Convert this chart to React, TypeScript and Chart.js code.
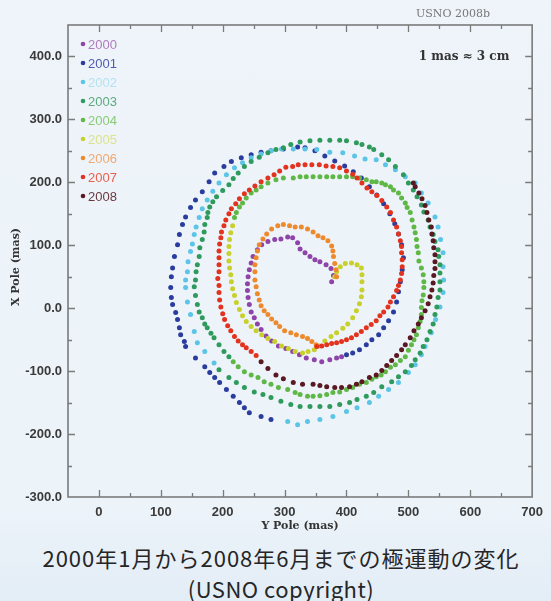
import { useEffect, useRef } from 'react';
import Chart from 'chart.js/auto';

// ---- Data: [Y pole (mas), X pole (mas)] ----
const YEARS = ['2000', '2001', '2002', '2003', '2004', '2005', '2006', '2007', '2008'];

const p2000: [number, number][] = [
  [376, 42], [379, 52], [375, 63], [367, 69], [357, 74], [349, 77], [341, 82], [333, 88], [325, 94], [321, 104],
  [313, 112], [305, 113], [294, 110], [284, 109], [273, 106], [263, 101], [256, 93], [249, 82], [246, 72], [243, 61],
  [241, 50], [240, 39], [240, 28], [241, 17], [243, 6], [246, -6], [251, -15], [256, -25], [262, -34], [270, -44],
  [279, -52], [290, -60], [302, -64], [313, -69], [324, -74], [335, -79], [348, -82], [360, -85], [373, -82], [384, -79],
  [392, -77],
];

const p2001: [number, number][] = [
  [400, -74], [410, -71], [421, -66], [432, -58], [441, -50], [452, -42], [460, -31], [468, -20], [476, -6], [481, 10],
  [484, 26], [487, 42], [490, 61], [492, 80], [489, 101], [484, 118], [478, 134], [470, 150], [460, 166], [449, 180],
  [437, 193], [424, 207], [411, 217], [397, 226], [381, 234], [365, 242], [349, 250], [333, 255], [321, 256], [298, 253],
  [278, 250], [262, 248], [246, 244], [230, 239], [214, 233], [202, 225], [187, 215], [178, 201], [167, 185], [156, 172],
  [148, 160], [140, 145], [135, 133], [130, 117], [127, 101], [122, 82], [119, 64], [117, 50], [116, 33], [117, 17],
  [119, 6], [124, -7], [127, -18], [130, -31], [132, -42], [138, -53], [140, -61], [156, -79], [171, -93], [179, -102],
  [187, -110], [195, -118], [206, -129], [217, -140], [227, -150], [235, -158], [243, -166], [262, -172], [278, -177],
];

const p2002: [number, number][] = [
  [305, -180], [321, -185], [337, -180], [357, -177], [378, -172], [400, -164], [417, -158], [437, -150], [452, -140], [468, -129],
  [484, -118], [500, -102], [511, -90], [521, -74], [527, -61], [537, -39], [544, -18], [551, 2], [556, 25], [557, 45],
  [556, 66], [556, 88], [552, 109], [548, 129], [543, 145], [532, 167], [521, 183], [511, 199], [495, 209], [479, 220],
  [463, 228], [448, 236], [430, 237], [413, 242], [394, 247], [373, 248], [352, 252], [333, 253], [314, 253], [295, 253],
  [278, 250], [262, 245], [246, 239], [232, 231], [219, 223], [206, 212], [194, 199], [184, 186], [175, 172], [167, 158],
  [162, 144], [157, 129], [154, 117], [151, 102], [148, 90], [144, 74], [143, 58], [140, 45], [140, 33], [143, 10],
  [148, -10], [154, -37], [159, -55], [171, -69], [186, -87],
];

const p2003: [number, number][] = [
  [194, -98], [210, -110], [222, -118], [235, -126], [251, -133], [265, -137], [278, -142], [294, -148], [310, -153], [325, -156],
  [341, -156], [357, -156], [373, -156], [389, -153], [405, -150], [417, -145], [432, -140], [444, -134], [457, -125], [473, -117],
  [484, -109], [495, -101], [505, -91], [511, -82], [519, -71], [524, -61], [530, -50], [535, -37], [540, -25], [543, -10],
  [546, 2], [548, 17], [551, 29], [551, 42], [551, 56], [551, 69], [549, 82], [548, 93], [543, 106], [540, 117],
  [535, 129], [532, 140], [525, 153], [521, 164], [514, 177], [508, 188], [500, 199], [492, 212], [479, 225], [468, 236],
  [457, 244], [444, 252], [437, 256], [425, 260], [416, 263], [400, 266], [389, 267], [373, 267], [357, 267], [341, 266],
  [325, 264], [310, 260], [298, 255], [286, 252], [273, 247], [259, 240], [246, 233], [235, 225], [225, 215], [217, 206],
  [210, 196], [200, 187], [190, 177], [184, 169], [179, 161], [176, 152], [175, 144], [171, 133], [170, 121], [167, 109],
  [163, 96], [162, 82], [159, 69], [157, 58], [156, 45], [154, 34], [156, 20], [159, 6], [162, -6], [167, -15],
  [171, -25], [175, -31], [181, -40], [186, -47], [194, -58], [202, -69], [210, -77],
];

const p2004: [number, number][] = [
  [217, -85], [225, -93], [235, -101], [246, -106], [257, -110], [267, -117], [278, -121], [290, -126], [305, -129], [317, -134],
  [325, -137], [337, -140], [346, -140], [357, -139], [368, -137], [378, -134], [389, -133], [400, -129], [410, -126], [421, -121],
  [432, -118], [441, -113], [448, -109], [456, -106], [463, -101], [471, -94], [479, -90], [487, -83], [495, -77], [500, -67],
  [505, -58], [509, -50], [513, -42], [516, -31], [519, -21], [521, -10], [521, 1], [522, 12], [524, 21], [525, 33],
  [525, 42], [524, 53], [521, 64], [517, 75], [516, 88], [514, 98], [513, 109], [511, 120], [509, 129], [506, 140],
  [503, 152], [498, 160], [495, 167], [489, 175], [484, 183], [476, 188], [471, 193], [463, 196], [457, 199], [448, 201],
  [441, 201], [432, 204], [421, 207], [410, 209], [400, 209], [389, 209], [378, 209], [368, 209], [357, 209], [346, 209],
  [335, 209], [325, 209], [314, 207], [298, 207], [286, 204], [273, 199], [262, 193], [254, 188], [246, 183], [238, 175],
  [232, 167], [227, 161], [222, 152], [219, 144],
];

const p2005: [number, number][] = [
  [216, 131], [213, 120], [211, 109], [210, 98], [210, 87], [210, 75], [211, 64], [213, 53], [214, 42], [216, 31],
  [219, 20], [222, 9], [227, -2], [232, -12], [238, -21], [246, -29], [254, -36], [263, -42], [273, -48], [284, -53],
  [295, -60], [306, -64], [317, -69], [329, -71], [338, -69], [348, -66], [356, -60], [365, -52], [375, -45], [384, -39],
  [394, -32], [402, -25], [410, -15], [416, -4], [421, 7], [424, 18], [425, 29], [425, 42], [425, 53], [424, 64],
  [417, 69], [408, 72], [398, 71], [390, 66], [384, 58], [381, 50],
];

const p2006: [number, number][] = [
  [384, 50], [383, 61], [381, 71], [379, 82], [378, 91], [376, 99], [370, 107], [362, 112], [354, 115], [346, 121],
  [337, 126], [327, 129], [317, 129], [308, 131], [298, 133], [289, 131], [279, 126], [271, 118], [265, 110], [259, 101],
  [256, 91], [254, 80], [252, 69], [252, 58], [252, 45], [254, 34], [256, 23], [259, 13], [262, 4], [267, -4],
  [273, -10], [279, -17], [286, -23], [292, -29], [300, -36], [310, -39], [319, -42], [329, -45], [337, -48], [344, -53],
  [351, -58],
];

const p2007: [number, number][] = [
  [352, -61], [360, -60], [368, -58], [376, -56], [384, -55], [392, -53], [400, -50], [408, -47], [416, -42], [424, -37],
  [432, -31], [440, -26], [448, -20], [454, -12], [460, -6], [467, 2], [471, 10], [476, 18], [481, 28], [484, 36],
  [487, 45], [489, 55], [490, 66], [490, 77], [489, 88], [489, 98], [487, 107], [484, 118], [481, 129], [476, 140],
  [471, 152], [465, 161], [457, 171], [449, 179], [441, 185], [433, 191], [425, 199], [417, 207], [410, 213], [400, 218],
  [389, 223], [378, 225], [367, 226], [356, 228], [344, 228], [333, 228], [322, 228], [313, 225], [302, 224], [292, 218],
  [283, 212], [273, 207], [262, 201], [252, 194], [243, 188], [235, 182], [227, 174], [221, 166], [214, 158], [210, 150],
  [205, 140], [202, 131], [198, 121], [197, 112], [195, 102], [194, 91], [194, 80], [194, 69], [194, 58], [192, 47],
  [194, 36], [194, 25], [195, 13], [197, 2], [200, -9], [203, -18], [208, -28], [213, -36], [219, -45], [225, -52],
  [232, -58], [238, -63], [246, -69], [254, -75],
];

const p2008: [number, number][] = [
  [262, -85], [273, -96], [286, -106], [298, -112], [314, -118], [329, -121], [346, -121], [357, -123], [368, -125], [381, -126],
  [392, -126], [405, -125], [416, -121], [425, -117], [437, -110], [448, -106], [457, -99], [465, -91], [473, -83], [481, -75],
  [489, -66], [495, -58], [503, -47], [509, -36], [516, -25], [521, -15], [527, -4], [532, 7], [535, 18], [538, 29],
  [540, 40], [541, 52], [543, 63], [543, 74], [543, 85], [541, 96], [540, 107], [538, 118], [537, 129], [533, 140],
  [530, 152], [527, 163], [522, 174], [517, 183], [511, 193], [508, 199],
];

const SERIES = [p2000, p2001, p2002, p2003, p2004, p2005, p2006, p2007, p2008];

// Tick labels
const X_LABELED = [0, 100, 200, 300, 400, 500, 600, 700];
const Y_LABELED = [-300, -200, -100, 0, 100, 200, 300, 400];

// Styles
const DOT_COLORS = ['#8e44a8', '#2a3d9e', '#5cc4e6', '#2e9a5c', '#5fb846', '#c7d02c', '#ee8a2e', '#e2331f', '#5a1822'];
const LABEL_COLORS = ['#b07cc0', '#4f5cb0', '#b4e2f2', '#5aaa7c', '#8acb78', '#dde38a', '#f2a870', '#e8604f', '#6a3840'];

const SERIF = '"DejaVu Serif", "Liberation Serif", serif';

const decorPlugin = {
  id: 'decor',
  afterDatasetsDraw(chart: any) {
    const { ctx, chartArea: a, scales } = chart;
    const xs = scales.x;
    const ys = scales.y;
    ctx.save();
    ctx.strokeStyle = '#7b7b7b';
    ctx.lineWidth = 1.6;
    ctx.strokeRect(a.left, a.top, a.right - a.left, a.bottom - a.top);
    ctx.lineWidth = 1.3;
    ctx.beginPath();
    xs.ticks.forEach((t: any) => {
      const v = t.value;
      if (v <= xs.min || v >= xs.max) return;
      const p = Math.round(xs.getPixelForValue(v)) + 0.5;
      const len = X_LABELED.includes(v) ? 7 : 4;
      ctx.moveTo(p, a.bottom);
      ctx.lineTo(p, a.bottom - len);
      ctx.moveTo(p, a.top);
      ctx.lineTo(p, a.top + len);
    });
    ys.ticks.forEach((t: any) => {
      const v = t.value;
      if (v <= ys.min || v >= ys.max) return;
      const p = Math.round(ys.getPixelForValue(v)) + 0.5;
      const len = Y_LABELED.includes(v) ? 7 : 4;
      ctx.moveTo(a.left, p);
      ctx.lineTo(a.left + len, p);
      ctx.moveTo(a.right, p);
      ctx.lineTo(a.right - len, p);
    });
    ctx.stroke();

    // legend inside the plot
    ctx.textBaseline = 'middle';
    ctx.textAlign = 'left';
    ctx.font = '13px "Liberation Sans", Arial, sans-serif';
    YEARS.forEach((yr, i) => {
      const yy = a.top + 19 + i * 19;
      ctx.fillStyle = DOT_COLORS[i];
      ctx.beginPath();
      ctx.arc(a.left + 15, yy, 2.3, 0, Math.PI * 2);
      ctx.fill();
      ctx.fillStyle = LABEL_COLORS[i];
      ctx.fillText(yr, a.left + 20, yy + 1);
    });

    // annotations
    ctx.fillStyle = '#333';
    ctx.font = 'bold 12px ' + SERIF;
    ctx.textAlign = 'center';
    ctx.fillText('1 mas \u2248 3 cm', 464, 57);
    ctx.fillStyle = '#777';
    ctx.font = '11px ' + SERIF;
    ctx.fillText('USNO 2008b', 453, 14);

    // axis titles
    ctx.fillStyle = '#333';
    ctx.font = 'bold 11px ' + SERIF;
    ctx.fillText('Y Pole (mas)', (a.left + a.right) / 2, 526);
    ctx.save();
    ctx.translate(16, 267);
    ctx.rotate(-Math.PI / 2);
    ctx.fillText('X Pole (mas)', 0, 0);
    ctx.restore();
    ctx.restore();
  },
};

export default function App() {
  const ref = useRef<HTMLCanvasElement | null>(null);
  useEffect(() => {
    if (!ref.current) return;
    const chart = new Chart(ref.current, {
      type: 'scatter',
      data: {
        datasets: SERIES.map((s, i) => ({
          label: YEARS[i],
          data: s.map(([yp, xp]) => ({ x: yp, y: xp })),
          backgroundColor: DOT_COLORS[i],
          borderWidth: 0,
          pointRadius: 2.5,
          pointHoverRadius: 2.5,
          showLine: false,
          order: SERIES.length - i,
        })),
      },
      options: {
        responsive: false,
        animation: false,
        devicePixelRatio: 1,
        events: [],
        layout: { padding: { left: 0, right: 9, top: 25, bottom: 0 } },
        plugins: { legend: { display: false }, tooltip: { enabled: false } },
        scales: {
          x: {
            type: 'linear',
            min: -50,
            max: 700,
            grid: { display: false, drawTicks: false },
            border: { display: false },
            ticks: {
              stepSize: 50,
              autoSkip: false,
              maxRotation: 0,
              padding: 8,
              color: '#3a3a3a',
              font: { family: '"Liberation Sans", Arial, sans-serif', size: 13, weight: 'bold' },
              callback: (v: any) => (X_LABELED.includes(Number(v)) ? String(v) : ''),
            },
            afterFit: (s: any) => {
              s.height = 43;
            },
          },
          y: {
            type: 'linear',
            min: -300,
            max: 450,
            grid: { display: false, drawTicks: false },
            border: { display: false },
            ticks: {
              stepSize: 50,
              autoSkip: false,
              padding: 6,
              color: '#3a3a3a',
              font: { family: '"Liberation Sans", Arial, sans-serif', size: 13, weight: 'bold' },
              callback: (v: any) => (Y_LABELED.includes(Number(v)) ? Number(v).toFixed(1) : ''),
            },
            afterFit: (s: any) => {
              s.width = 68;
            },
          },
        },
      },
      plugins: [decorPlugin],
    } as any);
    return () => chart.destroy();
  }, []);

  return (
    <div
      style={{
        position: 'fixed',
        left: 0,
        top: 0,
        width: 551,
        height: 601,
        overflow: 'hidden',
        background: 'linear-gradient(180deg, #eef4f9 0%, #ecf3f9 85%, #e3edf6 100%)',
      }}
    >
      <canvas ref={ref} width={551} height={540} style={{ position: 'absolute', left: 0, top: 0, width: 551, height: 540 }} />
      <div
        style={{
          position: 'absolute',
          left: 0,
          top: 542,
          width: 562,
          textAlign: 'center',
          fontFamily: '"Noto Sans CJK JP", "Noto Sans", sans-serif',
          fontSize: 22,
          letterSpacing: '1px',
          lineHeight: '30px',
          color: '#262626',
          whiteSpace: 'nowrap',
        }}
      >
        2000年1月から2008年6月までの極運動の変化
      </div>
      <div
        style={{
          position: 'absolute',
          left: 0,
          top: 573,
          width: 562,
          textAlign: 'center',
          fontFamily: '"Noto Sans CJK JP", "Noto Sans", sans-serif',
          fontSize: 22,
          letterSpacing: '0.5px',
          lineHeight: '30px',
          color: '#262626',
          whiteSpace: 'nowrap',
        }}
      >
        (USNO copyright)
      </div>
    </div>
  );
}
